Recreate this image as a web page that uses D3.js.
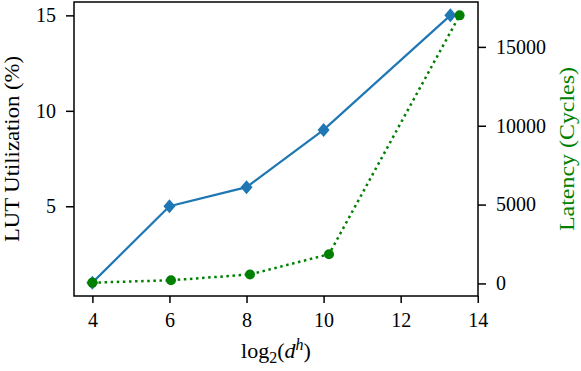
<!DOCTYPE html>
<html>
<head>
<meta charset="utf-8">
<script src="https://cdn.jsdelivr.net/npm/d3@7"></script>
<style>
  body { margin: 0; background: #fff; }
  svg { display: block; }
  text { font-family: "Liberation Serif", "DejaVu Serif", serif; }
</style>
</head>
<body>
<script>
// data
var lutX = [4, 6, 8, 10, 13.29];
var lutValues = [1, 5, 6, 9, 15];
var latencyX = [4, 6.04, 8.09, 10.14, 13.53];
var latencyValues = [50, 200, 570, 1850, 17000];
var xTicks = [4, 6, 8, 10, 12, 14];
var lutTicks = [5, 10, 15];
var latencyTicks = [0, 5000, 10000, 15000];

var width = 581, height = 371;
var margin = {top: 2, right: 103, bottom: 75, left: 74};
var w = width - margin.left - margin.right;
var h = height - margin.top - margin.bottom;
var fontSize = 20;

var svg = d3.select("body").append("svg")
    .attr("width", width)
    .attr("height", height);

var g = svg.append("g")
    .attr("transform", "translate(" + margin.left + "," + margin.top + ")");

var x = d3.scaleLinear().domain([3.523, 14.007]).range([0, w]);
var yL = d3.scaleLinear().domain([0.3, 15.7]).range([h, 0]);
var yR = d3.scaleLinear().domain([-797, 17847]).range([h, 0]);

function styleAxis(sel) {
    sel.select(".domain").remove();
    sel.selectAll(".tick line").attr("stroke", "#000").attr("stroke-width", 1.5);
    sel.selectAll(".tick text")
        .attr("font-size", fontSize)
        .attr("fill", "#000")
        .style("font-family", "'Liberation Serif', serif");
}

g.append("g")
    .attr("transform", "translate(0," + h + ")")
    .call(d3.axisBottom(x).tickValues(xTicks).tickSize(7).tickPadding(10).tickFormat(d3.format("d")))
    .call(styleAxis);

g.append("g")
    .call(d3.axisLeft(yL).tickValues(lutTicks).tickSize(8).tickPadding(10).tickFormat(d3.format("d")))
    .call(styleAxis);

g.append("g")
    .attr("transform", "translate(" + w + ",0)")
    .call(d3.axisRight(yR).tickValues(latencyTicks).tickSize(8).tickPadding(10).tickFormat(d3.format("d")))
    .call(styleAxis);

// frame
g.append("rect")
    .attr("width", w).attr("height", h)
    .attr("fill", "none").attr("stroke", "#000").attr("stroke-width", 1.5);

// latency series (green dotted)
var latData = latencyX.map(function(d, i) { return [d, latencyValues[i]]; });
g.append("path")
    .datum(latData)
    .attr("fill", "none")
    .attr("stroke", "green")
    .attr("stroke-width", 2.5)
    .attr("stroke-dasharray", "2.5,3.6")
    .attr("d", d3.line().x(function(d) { return x(d[0]); }).y(function(d) { return yR(d[1]); }));

// LUT series (blue solid)
var lutData = lutX.map(function(d, i) { return [d, lutValues[i]]; });
g.append("path")
    .datum(lutData)
    .attr("fill", "none")
    .attr("stroke", "#1f77b4")
    .attr("stroke-width", 2.2)
    .attr("d", d3.line().x(function(d) { return x(d[0]); }).y(function(d) { return yL(d[1]); }));

g.selectAll(".diamond")
    .data(lutData)
    .enter().append("path")
    .attr("class", "diamond")
    .attr("fill", "#1f77b4")
    .attr("transform", function(d) { return "translate(" + x(d[0]) + "," + yL(d[1]) + ")"; })
    .attr("d", "M0,-7L6,0L0,7L-6,0Z");

g.selectAll(".dot")
    .data(latData)
    .enter().append("circle")
    .attr("class", "dot")
    .attr("fill", "green")
    .attr("cx", function(d) { return x(d[0]); })
    .attr("cy", function(d) { return yR(d[1]); })
    .attr("r", 5);

// axis labels
var xl = svg.append("text")
    .attr("x", margin.left + w / 2)
    .attr("y", 358)
    .attr("text-anchor", "middle")
    .attr("font-size", 22);
xl.append("tspan").text("log");
xl.append("tspan").attr("font-size", 16).attr("dy", 5).text("2");
xl.append("tspan").attr("dy", -5).text("(");
xl.append("tspan").attr("font-style", "italic").text("d");
xl.append("tspan").attr("font-style", "italic").attr("font-size", 16).attr("dy", -8).text("h");
xl.append("tspan").attr("dy", 8).text(")");

svg.append("text")
    .attr("transform", "translate(19," + (margin.top + h / 2) + ") rotate(-90)")
    .attr("text-anchor", "middle")
    .attr("font-size", fontSize)
    .attr("textLength", 186)
    .attr("lengthAdjust", "spacingAndGlyphs")
    .text("LUT Utilization (%)");

svg.append("text")
    .attr("transform", "translate(574," + (margin.top + h / 2) + ") rotate(-90)")
    .attr("text-anchor", "middle")
    .attr("font-size", fontSize)
    .attr("fill", "green")
    .attr("textLength", 164)
    .attr("lengthAdjust", "spacingAndGlyphs")
    .text("Latency (Cycles)");
</script>
</body>
</html>
